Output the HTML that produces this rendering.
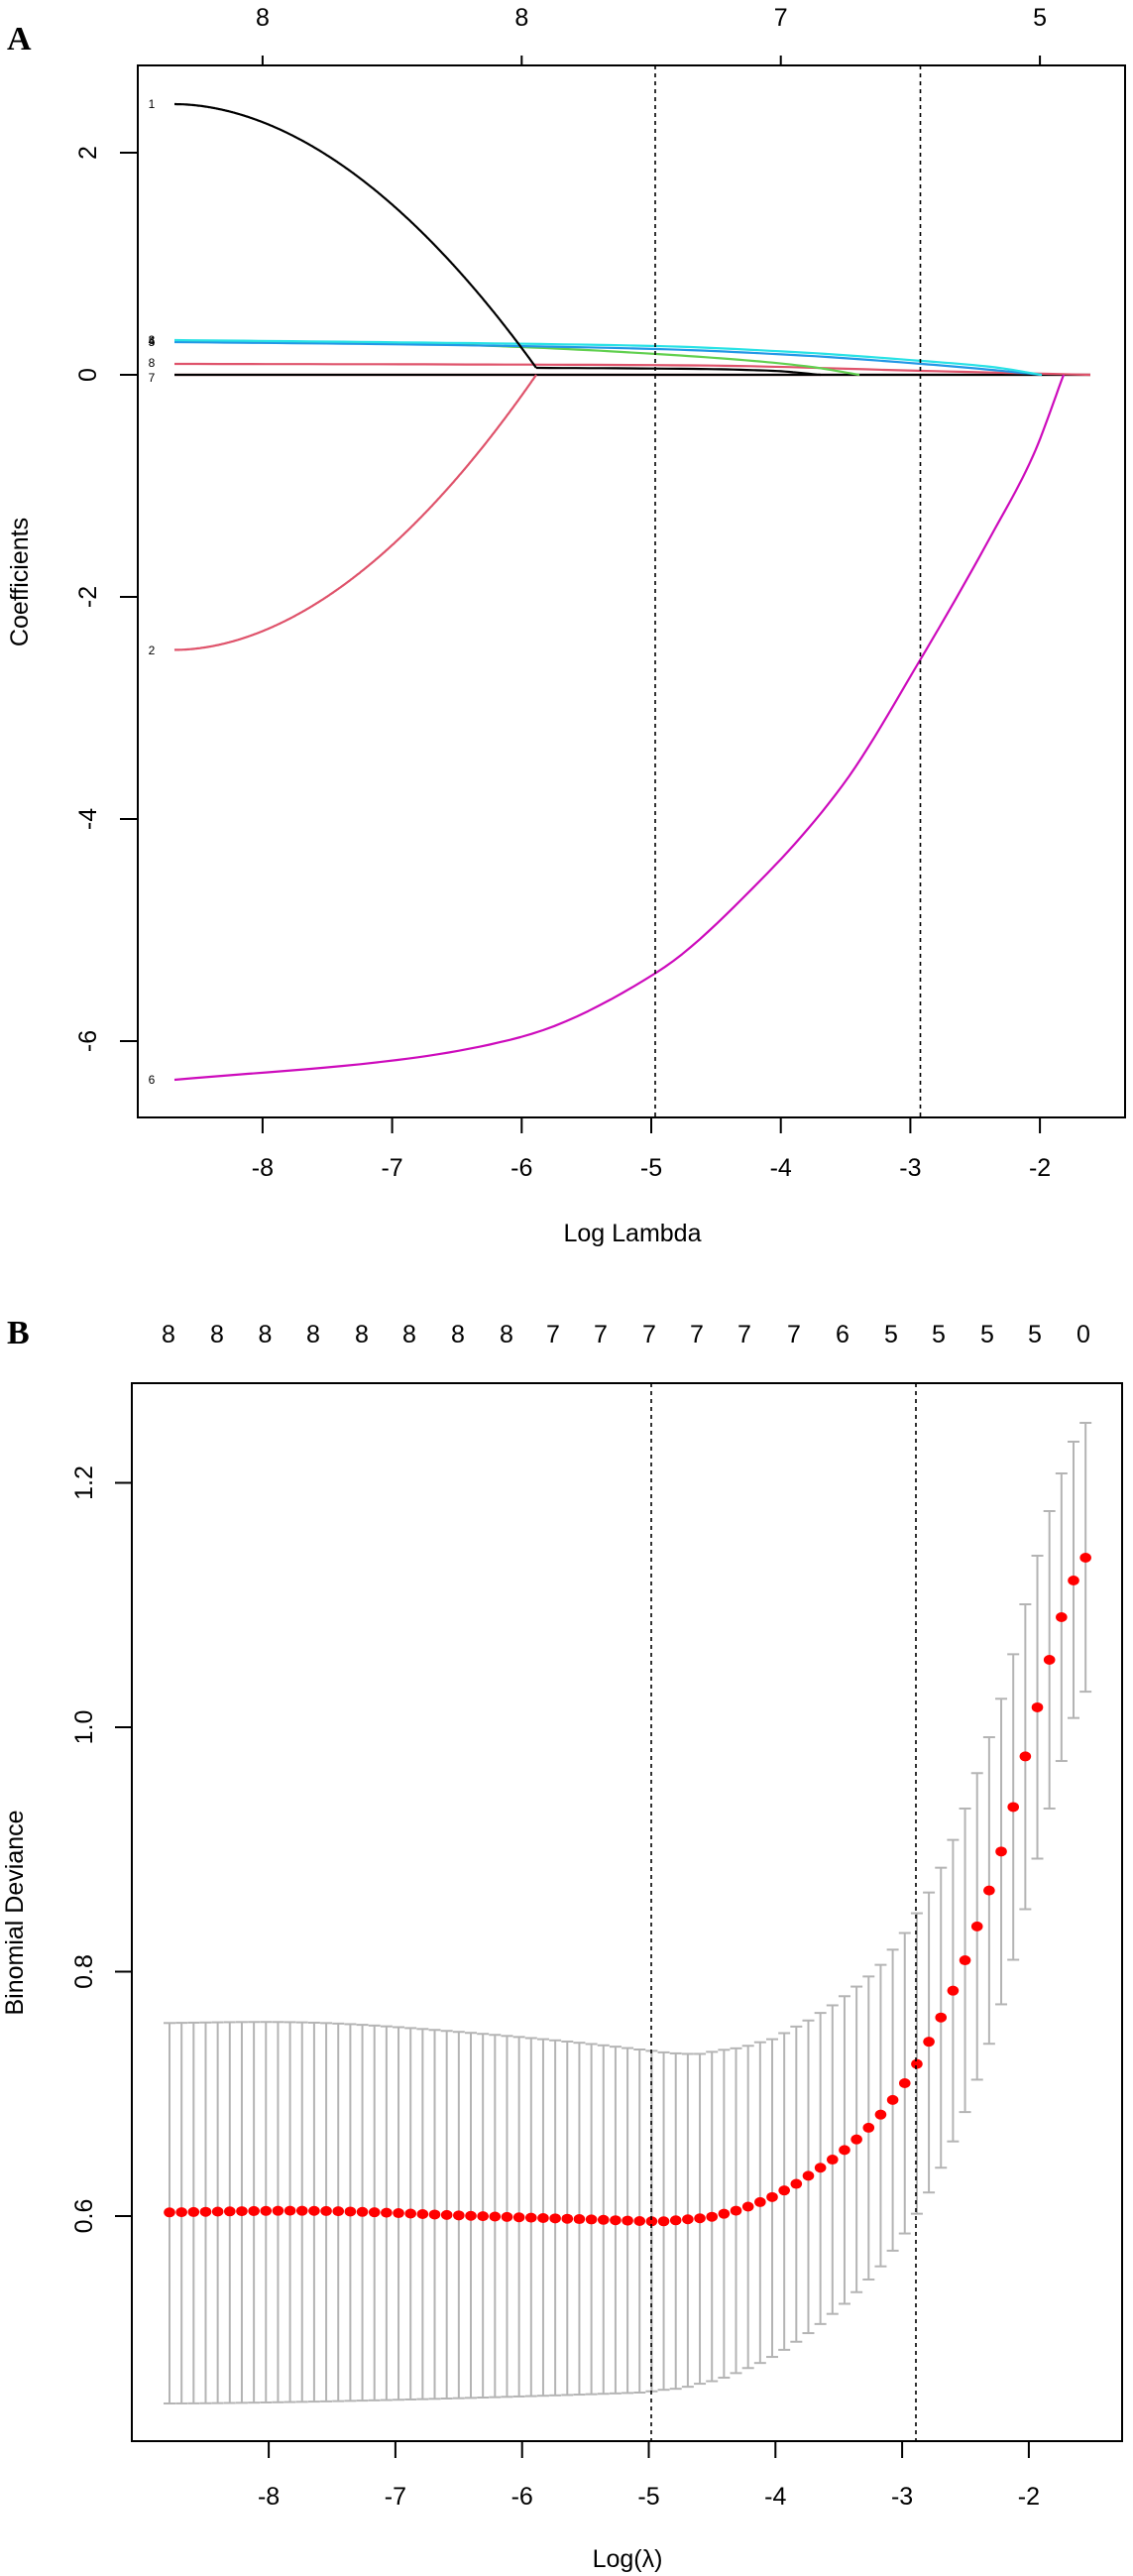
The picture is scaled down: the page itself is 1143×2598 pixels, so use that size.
<!DOCTYPE html>
<html><head><meta charset="utf-8"><style>
html,body{margin:0;padding:0;background:#fff}
svg{display:block}
text{font-family:"Liberation Sans",sans-serif;fill:#000}
</style></head><body>
<svg id="s" xmlns="http://www.w3.org/2000/svg" width="1143" height="2598" viewBox="0 0 1143 2598">
<rect width="1143" height="2598" fill="#fff"/>
<text x="7" y="50" style="font-family:'Liberation Serif',serif;font-weight:bold;font-size:34px">A</text>
<g id="A"></g>
<rect x="139" y="66" width="996" height="1061" fill="none" stroke="#000" stroke-width="2"/>
<line x1="661" y1="66" x2="661" y2="1127" stroke="#000" stroke-width="1.6" stroke-dasharray="4,4"/>
<line x1="928.5" y1="66" x2="928.5" y2="1127" stroke="#000" stroke-width="1.6" stroke-dasharray="4,4"/>
<text x="7" y="1355" style="font-family:'Liberation Serif',serif;font-weight:bold;font-size:34px">B</text>
<g id="B"></g>
<rect x="133" y="1395" width="999" height="1067" fill="none" stroke="#000" stroke-width="2"/>
<line x1="657" y1="1395" x2="657" y2="2462" stroke="#000" stroke-width="1.6" stroke-dasharray="4,4"/>
<line x1="924" y1="1395" x2="924" y2="2462" stroke="#000" stroke-width="1.6" stroke-dasharray="4,4"/>
</svg>
<script>
var NS="http://www.w3.org/2000/svg";
function el(p,t,a,txt){var e=document.createElementNS(NS,t);for(var k in a)e.setAttribute(k,a[k]);if(txt!=null)e.textContent=txt;p.appendChild(e);return e;}
function mono(pts){var n=pts.length,xs=pts.map(function(p){return p[0]}),ys=pts.map(function(p){return p[1]});
var d=[],m=[];for(var i=0;i<n-1;i++)d.push((ys[i+1]-ys[i])/(xs[i+1]-xs[i]));
m[0]=d[0];m[n-1]=d[n-2];for(i=1;i<n-1;i++){if(d[i-1]*d[i]<=0)m[i]=0;else{var w1=2*(xs[i+1]-xs[i])+(xs[i]-xs[i-1]),w2=(xs[i+1]-xs[i])+2*(xs[i]-xs[i-1]);m[i]=(w1+w2)/(w1/d[i-1]+w2/d[i]);}}
var s="";for(i=0;i<n-1;i++){var h=xs[i+1]-xs[i];for(var k=0;k<=12;k++){if(i>0&&k==0)continue;var t=k/12,t2=t*t,t3=t2*t;
var y=(2*t3-3*t2+1)*ys[i]+(t3-2*t2+t)*h*m[i]+(-2*t3+3*t2)*ys[i+1]+(t3-t2)*h*m[i+1];var x=xs[i]+t*h;
s+=(s?" L":"M")+x.toFixed(1)+","+y.toFixed(1);}}return s;}
var A=document.getElementById("A"),B=document.getElementById("B");
function xa(v){return 657+(v+5)*130.7;}
function ya(c){return 378-112*c;}
[-8,-7,-6,-5,-4,-3,-2].forEach(function(v){var x=xa(v);el(A,"line",{x1:x,y1:1127,x2:x,y2:1143,stroke:"#000","stroke-width":2});
el(A,"text",{x:x,y:1186,"text-anchor":"middle","font-size":"25"},""+v);});
[2,0,-2,-4,-6].forEach(function(c){var y=ya(c);el(A,"line",{x1:121,y1:y,x2:139,y2:y,stroke:"#000","stroke-width":2});
el(A,"text",{x:0,y:0,"text-anchor":"middle","font-size":"25",transform:"translate(97,"+y+") rotate(-90)"},""+c);});
[[-8,"8"],[-6,"8"],[-4,"7"],[-2,"5"]].forEach(function(t){var x=xa(t[0]);el(A,"line",{x1:x,y1:56,x2:x,y2:66,stroke:"#000","stroke-width":2});
el(A,"text",{x:x,y:26,"text-anchor":"middle","font-size":"25"},t[1]);});
el(A,"text",{x:638,y:1252,"text-anchor":"middle","font-size":"25"},"Log Lambda");
el(A,"text",{x:0,y:0,"text-anchor":"middle","font-size":"25",transform:"translate(28,587) rotate(-90)"},"Coefficients");
var sw=2.2;
function pl(pts,col){el(A,"path",{d:mono(pts),fill:"none",stroke:col,"stroke-width":sw,"stroke-linejoin":"round"});}
pl([[176,378],[1100,378]],"#DF536B");
pl([[176,378],[1100,378]],"#000");
pl([[176,367],[450,367.5],[700,368.5],[930,374],[1100,378]],"#DF536B");
pl([[176,344],[400,346],[526,350],[662,357],[760,364],[818,370],[867,378]],"#61D04F");
pl([[176,345],[380,347],[662,352],[800,358],[930,367],[1000,373],[1051,378]],"#2297E6");
pl([[176,343],[380,345],[662,349],[800,355],[930,364],[1000,370],[1051,378]],"#28E2E5");
var b1=[],r2=[];
for(var i=0;i<=40;i++){var x=176+(541-176)*i/40;var t=i/40;
var yk=105+(371-105)*Math.pow(t,1.9);b1.push([x,yk]);
var cb=(378-yk)/112;var cr=-(cb-0.0625)*2.48/2.3775;r2.push([x,378-112*cr]);}
pl(b1,"#000");
pl([[541,371],[700,372],[780,374],[828,378]],"#000");
pl(r2,"#DF536B");
pl([[176,1089],[401,1069],[525,1046],[662,981],[767,888],[850,792],[928,666],[1000,540],[1042,460],[1073,378]],"#CD0BBC");
[["1",105],["3",343],["4",344],["5",345],["8",366],["7",381],["2",656],["6",1089]].forEach(function(t){
el(A,"text",{x:153,y:t[1]+4,"text-anchor":"middle","font-size":"12"},t[0]);});
function xb(v){return 654.5+(v+5)*127.8;}
function ybf(d){return 2235-(d-0.6)*1232.5;}
[-8,-7,-6,-5,-4,-3,-2].forEach(function(v){var x=xb(v);el(B,"line",{x1:x,y1:2462,x2:x,y2:2479,stroke:"#000","stroke-width":2});
el(B,"text",{x:x,y:2526,"text-anchor":"middle","font-size":"25"},""+v);});
[["0.6",0.6],["0.8",0.8],["1.0",1.0],["1.2",1.2]].forEach(function(t){var y=ybf(t[1]);el(B,"line",{x1:116,y1:y,x2:133,y2:y,stroke:"#000","stroke-width":2});
el(B,"text",{x:0,y:0,"text-anchor":"middle","font-size":"25",transform:"translate(93,"+y+") rotate(-90)"},t[0]);});
var tops="8 8 8 8 8 8 8 8 7 7 7 7 7 7 6 5 5 5 5 0".split(" ");
var tx=[170,219,267.5,316,365,413,462,511,558,606,655,703,751,801,850,899,947,996,1044,1093];
tops.forEach(function(t,i){el(B,"text",{x:tx[i],y:1354,"text-anchor":"middle","font-size":"25"},t);});
el(B,"text",{x:633,y:2589,"text-anchor":"middle","font-size":"25"},"Log(\u03bb)");
el(B,"text",{x:0,y:0,"text-anchor":"middle","font-size":"25",transform:"translate(23,1929) rotate(-90)"},"Binomial Deviance");
var dm=[1157,1157,1155,1153,1151,1148,1142,1136,1128,1119,1109,1096,1083,1067,1051,1035,1016,995,972,946,917,884,846,802,754,701,641,574,503,426,338,238,141,47].map(function(v){return 1650+v/1.96;}).concat([1631,1594,1571]);
var du=[820,823,825,826,826,822,818,815,810,803,797,785,772,760,745,730,712,693,673,650,620,587,548,507,458,403,341,271,200,124,36].map(function(v){return 1650+v/1.96;}).concat([1618,1569,1524,1486,1454,1435]);
var dl=[1493,1490,1488,1484,1478,1473,1466,1457,1447,1437,1425,1411,1395,1378,1360,1340,1320,1297,1272,1246,1215,1181,1142,1100,1051,999,941,877,806,728,640,540,440,341,247,162,110].map(function(v){return 1650+v/1.96;});
var M=[],U=[],L=[];
for(var i=0;i<40;i++){var t=i/39,b=Math.exp(-Math.pow((i-12)/10,2));
M.push(2232-3*b+8*t*t);U.push(2041-3*b+26*Math.pow(t,2.2));L.push(2424-11*Math.pow(t,1.5));}
M=M.concat(dm);U=U.concat(du);L=L.concat(dl);
var g=el(B,"g",{stroke:"#B4B4B4","stroke-width":2});
var dots=el(B,"g",{fill:"#FF0000"});
for(var i=0;i<77;i++){var x=171+i*12.16;
el(g,"line",{x1:x,y1:U[i],x2:x,y2:L[i]});
el(g,"line",{x1:x-6,y1:U[i],x2:x+6,y2:U[i]});
el(g,"line",{x1:x-6,y1:L[i],x2:x+6,y2:L[i]});
el(dots,"ellipse",{cx:x,cy:M[i],rx:5.8,ry:5});}
</script>
</body></html>
